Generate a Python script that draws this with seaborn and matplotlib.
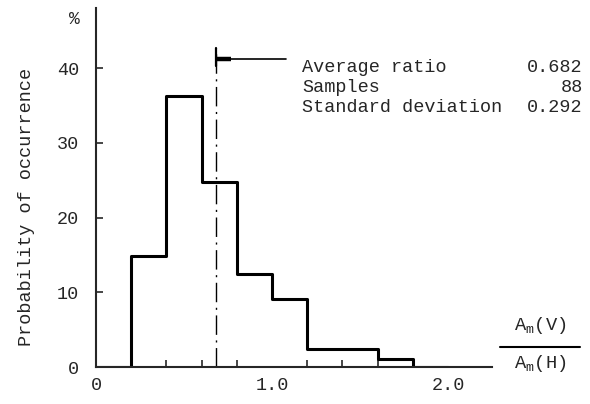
import numpy as np
import pandas as pd
import matplotlib
matplotlib.use("Agg")
import matplotlib.pyplot as plt
import seaborn as sns

# ---- data ----
bin_edges = [0.0, 0.2, 0.4, 0.6, 0.8, 1.0, 1.2, 1.4, 1.6, 1.8, 2.0]
probabilities = [0.0, 14.8, 36.2, 24.8, 12.5, 9.1, 2.4, 2.4, 1.1, 0.0]
average_ratio = 0.682
samples = 88
standard_deviation = 0.292
y_ticks = [0, 10, 20, 30, 40]
x_major_ticks = [0.0, 1.0, 2.0]
x_major_labels = ["0", "1.0", "2.0"]
x_minor_ticks = [0.4, 0.6, 0.8, 1.2, 1.4, 1.6, 1.8]
stat_labels = ["Average ratio", "Samples", "Standard deviation"]
stat_values = ["0.682", "88", "0.292"]

sns.set_style("ticks")
plt.rcParams["font.family"] = ["Liberation Mono", "DejaVu Sans Mono"]
plt.rcParams["mathtext.fontset"] = "custom"
plt.rcParams["mathtext.rm"] = "Liberation Mono"
plt.rcParams["mathtext.it"] = "Liberation Mono"

fig = plt.figure(figsize=(5.9, 4.04), dpi=100)
W, H = 590, 404
x0_px, y0_px = 96, 367
px_per_x = 176.0
px_per_y = 7.475
xmax, ymax = 2.25, 48.0
ax = fig.add_axes([x0_px / W, (H - y0_px) / H, xmax * px_per_x / W, ymax * px_per_y / H])

centers = [(bin_edges[i] + bin_edges[i + 1]) / 2 for i in range(len(probabilities))]
df = pd.DataFrame({"ratio": centers, "prob": probabilities})
sns.histplot(data=df, x="ratio", weights="prob", bins=bin_edges, element="step",
             fill=False, color="black", linewidth=2.2, ax=ax)

# mean line (dash-dot)
ax.plot([average_ratio, average_ratio], [0, 42.7], color="black", linewidth=1.0,
        linestyle=(0, (14, 4, 1.5, 4)))
# marker bar + arrow
ax.plot([average_ratio, average_ratio], [40.3, 42.7], color="black", linewidth=1.6)
ax.plot([average_ratio, 1.08], [41.2, 41.2], color="black", linewidth=1.2)
ax.plot([average_ratio, average_ratio + 0.085], [41.2, 41.2], color="black", linewidth=3.2,
        solid_capstyle="butt")

ax.set_xlim(0, xmax)
ax.set_ylim(0, ymax)
ax.set_yticks(y_ticks)
ax.set_yticklabels([str(v) for v in y_ticks])
ax.set_xticks(x_major_ticks)
ax.set_xticklabels(x_major_labels)
ax.set_xticks(x_minor_ticks, minor=True)
ax.tick_params(axis="x", which="major", direction="in", length=0, pad=7, labelsize=13.3)
ax.tick_params(axis="x", which="minor", direction="in", length=5, width=1.2)
ax.tick_params(axis="y", which="major", direction="in", length=5, width=1.2, pad=12, labelsize=13.3)
sns.despine(ax=ax)
for s in ["left", "bottom"]:
    ax.spines[s].set_linewidth(1.5)
ax.set_xlabel("")
ax.set_ylabel("Probability of occurrence", fontsize=13.3)
ax.yaxis.set_label_coords((35 - x0_px) / (xmax * px_per_x), (y0_px - 207) / (ymax * px_per_y))

# percent sign
fig.text(74 / W, 1 - 20 / H, "%", fontsize=13, ha="center", va="center")

# stats text
for i, (lab, val) in enumerate(zip(stat_labels, stat_values)):
    yy = 1 - (68 + 20 * i) / H
    fig.text(302 / W, yy, lab, fontsize=13.3, ha="left", va="center")
    fig.text(583 / W, yy, val, fontsize=13.3, ha="right", va="center")

# fraction axis label
fig.text(540 / W, 1 - 326 / H, r"A$_{\mathrm{m}}$(V)", fontsize=13.5, ha="center", va="center")
fig.text(540 / W, 1 - 364 / H, r"A$_{\mathrm{m}}$(H)", fontsize=13.5, ha="center", va="center")
fig.add_artist(plt.Line2D([500 / W, 580 / W], [1 - 347 / H, 1 - 347 / H], color="black",
                          linewidth=1.5, transform=fig.transFigure))

fig.savefig("out.png", dpi=100)
